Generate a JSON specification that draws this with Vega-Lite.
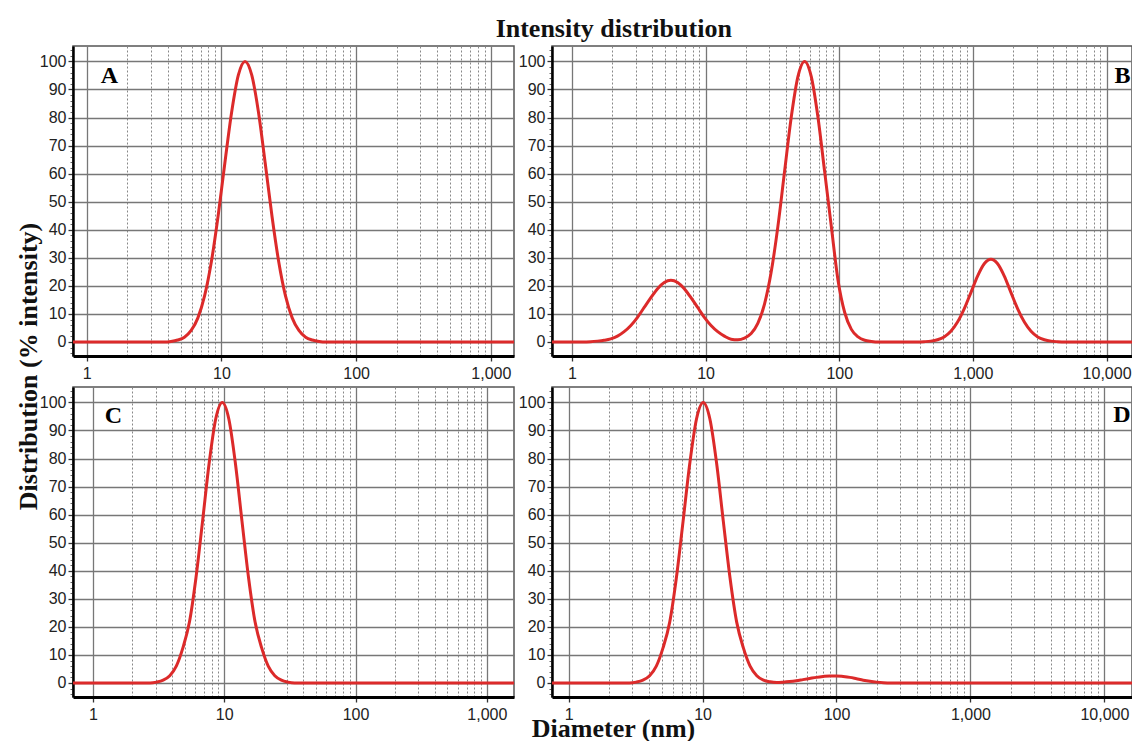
{
  "$schema": "https://vega.github.io/schema/vega-lite/v6.json",
  "background": "white",
  "padding": {"left": 14, "top": 16, "right": 0, "bottom": 0},
  "title": {"text": "Intensity distribution", "font": "Liberation Serif", "fontSize": 26, "fontWeight": "bold", "color": "#111", "anchor": "middle", "offset": 3, "dx": 40},
  "config": {
    "view": {"stroke": "#555", "strokeWidth": 1.5},
    "axis": {"labelFont": "Liberation Sans", "labelFontSize": 16, "labelColor": "#222", "titleFont": "Liberation Serif", "titleFontWeight": "bold", "titleFontSize": 26, "titleColor": "#111"}
  },
  "datasets": {
    "A": [{"d":0.79,"v":0},{"d":3.0,"v":0},{"d":3.758,"v":0},{"d":4.217,"v":0.2},{"d":4.732,"v":0.7},{"d":5.309,"v":1.7},{"d":5.957,"v":4.1},{"d":6.683,"v":8.6},{"d":7.499,"v":16.5},{"d":8.414,"v":28.6},{"d":9.441,"v":44.9},{"d":10.59,"v":63.7},{"d":11.89,"v":81.8},{"d":13.34,"v":95.1},{"d":14.96,"v":100},{"d":16.79,"v":95.1},{"d":18.84,"v":81.8},{"d":21.13,"v":63.7},{"d":23.71,"v":44.9},{"d":26.61,"v":28.6},{"d":29.85,"v":16.5},{"d":33.5,"v":8.6},{"d":37.58,"v":4.1},{"d":42.17,"v":1.7},{"d":47.32,"v":0.7},{"d":53.09,"v":0.2},{"d":59.57,"v":0},{"d":1486,"v":0}],
    "B": [{"d":0.71,"v":0},{"d":1.2,"v":0},{"d":1.384,"v":0.1},{"d":1.552,"v":0.3},{"d":1.742,"v":0.6},{"d":1.954,"v":1.1},{"d":2.193,"v":2.1},{"d":2.46,"v":3.7},{"d":2.761,"v":5.9},{"d":3.097,"v":8.8},{"d":3.475,"v":12.3},{"d":3.899,"v":15.8},{"d":4.375,"v":19.0},{"d":4.909,"v":21.2},{"d":5.508,"v":22.0},{"d":6.18,"v":21.2},{"d":6.934,"v":19.0},{"d":7.78,"v":15.8},{"d":8.73,"v":12.3},{"d":9.795,"v":8.8},{"d":10.99,"v":5.9},{"d":12.33,"v":3.7},{"d":13.84,"v":2.1},{"d":15.52,"v":1.0},{"d":17.42,"v":0.8},{"d":19.54,"v":1.4},{"d":21.93,"v":3.0},{"d":24.6,"v":6.6},{"d":27.61,"v":13.5},{"d":30.97,"v":24.9},{"d":34.75,"v":41.1},{"d":38.99,"v":60.7},{"d":43.75,"v":80.1},{"d":49.09,"v":94.6},{"d":55.08,"v":100},{"d":61.8,"v":94.6},{"d":69.34,"v":80.1},{"d":77.8,"v":60.7},{"d":87.3,"v":41.1},{"d":97.95,"v":22.0},{"d":109.9,"v":10.5},{"d":123.3,"v":4.5},{"d":138.4,"v":1.8},{"d":155.2,"v":0.6},{"d":174.2,"v":0.2},{"d":195.4,"v":0},{"d":384.6,"v":0},{"d":431.5,"v":0.1},{"d":484.2,"v":0.3},{"d":543.3,"v":0.8},{"d":609.5,"v":1.8},{"d":683.9,"v":3.8},{"d":767.4,"v":7.1},{"d":861,"v":11.8},{"d":966.1,"v":17.6},{"d":1084,"v":23.5},{"d":1216,"v":27.9},{"d":1365,"v":29.5},{"d":1531,"v":27.9},{"d":1718,"v":23.5},{"d":1928,"v":17.6},{"d":2163,"v":11.8},{"d":2427,"v":7.1},{"d":2723,"v":3.8},{"d":3055,"v":1.8},{"d":3428,"v":0.8},{"d":3846,"v":0.3},{"d":4315,"v":0.1},{"d":4842,"v":0},{"d":15630,"v":0}],
    "C": [{"d":0.705,"v":0},{"d":2.4,"v":0},{"d":2.723,"v":0},{"d":3.055,"v":0.3},{"d":3.428,"v":1.0},{"d":3.846,"v":2.6},{"d":4.315,"v":6.0},{"d":4.842,"v":12.5},{"d":5.433,"v":21.7},{"d":6.095,"v":37.6},{"d":6.839,"v":57.7},{"d":7.674,"v":78.3},{"d":8.61,"v":94.1},{"d":9.661,"v":100},{"d":10.84,"v":94.1},{"d":12.16,"v":78.3},{"d":13.65,"v":57.7},{"d":15.31,"v":37.6},{"d":17.18,"v":21.7},{"d":19.28,"v":12.5},{"d":21.63,"v":6.0},{"d":24.27,"v":2.6},{"d":27.23,"v":1.0},{"d":30.55,"v":0.3},{"d":34.28,"v":0},{"d":1610,"v":0}],
    "D": [{"d":0.752,"v":0},{"d":2.5,"v":0},{"d":2.851,"v":0},{"d":3.199,"v":0.3},{"d":3.589,"v":1.0},{"d":4.027,"v":2.6},{"d":4.519,"v":6.0},{"d":5.07,"v":12.5},{"d":5.689,"v":21.7},{"d":6.383,"v":37.6},{"d":7.161,"v":57.7},{"d":8.035,"v":78.3},{"d":9.016,"v":94.1},{"d":10.12,"v":100},{"d":11.35,"v":94.1},{"d":12.74,"v":78.3},{"d":14.29,"v":57.7},{"d":16.03,"v":37.6},{"d":17.99,"v":21.7},{"d":20.18,"v":12.5},{"d":22.65,"v":6.0},{"d":25.41,"v":2.6},{"d":28.51,"v":1.0},{"d":31.99,"v":0.4},{"d":35.89,"v":0.2},{"d":39.81,"v":0.3},{"d":44.67,"v":0.5},{"d":50.12,"v":0.8},{"d":56.23,"v":1.2},{"d":63.1,"v":1.6},{"d":70.79,"v":2.0},{"d":79.43,"v":2.3},{"d":89.13,"v":2.5},{"d":100,"v":2.5},{"d":112.2,"v":2.3},{"d":125.9,"v":2.0},{"d":141.3,"v":1.5},{"d":158.5,"v":1.0},{"d":177.8,"v":0.6},{"d":199.5,"v":0.3},{"d":223.9,"v":0.1},{"d":251.2,"v":0},{"d":16080,"v":0}]
  },
  "columns": 2,
  "spacing": {"row": 31, "column": 38},
  "bounds": "flush",
  "concat": [
    {
      "width": 441, "height": 310,
      "resolve": {"axis": {"x": "independent", "y": "independent"}},
      "layer": [
        {"data": {"name": "A"}, "mark": {"type": "line", "strokeOpacity": 0},
         "encoding": {
           "x": {"field": "d", "type": "quantitative", "scale": {"type": "log", "domain": [0.79, 1486], "nice": false}, "axis": {"orient": "bottom", "values": [2,3,4,5,6,7,8,9,20,30,40,50,60,70,80,90,200,300,400,500,600,700,800,900], "grid": true, "gridColor": "#888", "gridWidth": 1, "gridDash": [2,2], "labels": false, "ticks": false, "domain": false, "title": null}},
           "y": {"field": "v", "type": "quantitative", "scale": {"domain": [-5, 105.5], "nice": false, "zero": false}, "axis": {"orient": "left", "values": [-4,-2,0,2,4,6,8,10,12,14,16,18,20,22,24,26,28,30,32,34,36,38,40,42,44,46,48,50,52,54,56,58,60,62,64,66,68,70,72,74,76,78,80,82,84,86,88,90,92,94,96,98,100,102,104], "grid": false, "labels": false, "domain": false, "ticks": true, "tickSize": 3, "tickColor": "#666", "tickWidth": 1, "title": null}}
         }},
        {"data": {"name": "A"}, "mark": {"type": "line", "color": "#dc2a2a", "strokeWidth": 3, "interpolate": "monotone", "clip": true},
         "encoding": {
           "x": {"field": "d", "type": "quantitative", "scale": {"type": "log", "domain": [0.79, 1486], "nice": false}, "axis": {"orient": "bottom", "values": [1,10,100,1000], "format": ",", "grid": true, "gridColor": "#777", "gridWidth": 1.3, "domain": true, "domainColor": "#000", "domainWidth": 3, "ticks": true, "tickColor": "#333", "tickSize": 5, "tickWidth": 1.3, "labelPadding": 4, "labelFlush": false, "labelOverlap": false, "title": null}},
           "y": {"field": "v", "type": "quantitative", "scale": {"domain": [-5, 105.5], "nice": false, "zero": false}, "axis": {"orient": "left", "values": [0,10,20,30,40,50,60,70,80,90,100], "grid": true, "gridColor": "#777", "gridWidth": 1.3, "domain": true, "domainColor": "#000", "domainWidth": 2.5, "ticks": true, "tickColor": "#333", "tickSize": 5, "tickWidth": 1.3, "labelPadding": 2, "title": "Distribution (% intensity)", "titleAngle": 270, "titleX": -45, "titleY": 320, "titleAlign": "center", "titleBaseline": "middle"}}
         }},
        {"data": {"values": [{"label": "A", "d": 1.47, "v": 94.8}]}, "mark": {"type": "text", "font": "Liberation Serif", "fontSize": 24, "fontWeight": "bold", "color": "#000", "align": "center", "baseline": "middle"},
         "encoding": {"x": {"field": "d", "type": "quantitative", "axis": null}, "y": {"field": "v", "type": "quantitative", "axis": null}, "text": {"field": "label"}}}
      ]
    },
    {
      "width": 580, "height": 310,
      "resolve": {"axis": {"x": "independent", "y": "independent"}},
      "layer": [
        {"data": {"name": "B"}, "mark": {"type": "line", "strokeOpacity": 0},
         "encoding": {
           "x": {"field": "d", "type": "quantitative", "scale": {"type": "log", "domain": [0.71, 15500], "nice": false}, "axis": {"orient": "bottom", "values": [2,3,4,5,6,7,8,9,20,30,40,50,60,70,80,90,200,300,400,500,600,700,800,900,2000,3000,4000,5000,6000,7000,8000,9000], "grid": true, "gridColor": "#888", "gridWidth": 1, "gridDash": [2,2], "labels": false, "ticks": false, "domain": false, "title": null}},
           "y": {"field": "v", "type": "quantitative", "scale": {"domain": [-5, 105.5], "nice": false, "zero": false}, "axis": {"orient": "left", "values": [-4,-2,0,2,4,6,8,10,12,14,16,18,20,22,24,26,28,30,32,34,36,38,40,42,44,46,48,50,52,54,56,58,60,62,64,66,68,70,72,74,76,78,80,82,84,86,88,90,92,94,96,98,100,102,104], "grid": false, "labels": false, "domain": false, "ticks": true, "tickSize": 3, "tickColor": "#666", "tickWidth": 1, "title": null}}
         }},
        {"data": {"name": "B"}, "mark": {"type": "line", "color": "#dc2a2a", "strokeWidth": 3, "interpolate": "monotone", "clip": true},
         "encoding": {
           "x": {"field": "d", "type": "quantitative", "scale": {"type": "log", "domain": [0.71, 15500], "nice": false}, "axis": {"orient": "bottom", "values": [1,10,100,1000,10000], "format": ",", "grid": true, "gridColor": "#777", "gridWidth": 1.3, "domain": true, "domainColor": "#000", "domainWidth": 3, "ticks": true, "tickColor": "#333", "tickSize": 5, "tickWidth": 1.3, "labelPadding": 4, "labelFlush": false, "labelOverlap": false, "title": null}},
           "y": {"field": "v", "type": "quantitative", "scale": {"domain": [-5, 105.5], "nice": false, "zero": false}, "axis": {"orient": "left", "values": [0,10,20,30,40,50,60,70,80,90,100], "grid": true, "gridColor": "#777", "gridWidth": 1.3, "domain": true, "domainColor": "#000", "domainWidth": 2.5, "ticks": true, "tickColor": "#333", "tickSize": 5, "tickWidth": 1.3, "labelPadding": 2, "title": null}}
         }},
        {"data": {"values": [{"label": "B", "d": 13150, "v": 94.8}]}, "mark": {"type": "text", "font": "Liberation Serif", "fontSize": 24, "fontWeight": "bold", "color": "#000", "align": "center", "baseline": "middle"},
         "encoding": {"x": {"field": "d", "type": "quantitative", "axis": null}, "y": {"field": "v", "type": "quantitative", "axis": null}, "text": {"field": "label"}}}
      ]
    },
    {
      "width": 441, "height": 310,
      "resolve": {"axis": {"x": "independent", "y": "independent"}},
      "layer": [
        {"data": {"name": "C"}, "mark": {"type": "line", "strokeOpacity": 0},
         "encoding": {
           "x": {"field": "d", "type": "quantitative", "scale": {"type": "log", "domain": [0.705, 1610], "nice": false}, "axis": {"orient": "bottom", "values": [2,3,4,5,6,7,8,9,20,30,40,50,60,70,80,90,200,300,400,500,600,700,800,900], "grid": true, "gridColor": "#888", "gridWidth": 1, "gridDash": [2,2], "labels": false, "ticks": false, "domain": false, "title": null}},
           "y": {"field": "v", "type": "quantitative", "scale": {"domain": [-5, 105.5], "nice": false, "zero": false}, "axis": {"orient": "left", "values": [-4,-2,0,2,4,6,8,10,12,14,16,18,20,22,24,26,28,30,32,34,36,38,40,42,44,46,48,50,52,54,56,58,60,62,64,66,68,70,72,74,76,78,80,82,84,86,88,90,92,94,96,98,100,102,104], "grid": false, "labels": false, "domain": false, "ticks": true, "tickSize": 3, "tickColor": "#666", "tickWidth": 1, "title": null}}
         }},
        {"data": {"name": "C"}, "mark": {"type": "line", "color": "#dc2a2a", "strokeWidth": 3, "interpolate": "monotone", "clip": true},
         "encoding": {
           "x": {"field": "d", "type": "quantitative", "scale": {"type": "log", "domain": [0.705, 1610], "nice": false}, "axis": {"orient": "bottom", "values": [1,10,100,1000], "format": ",", "grid": true, "gridColor": "#777", "gridWidth": 1.3, "domain": true, "domainColor": "#000", "domainWidth": 3, "ticks": true, "tickColor": "#333", "tickSize": 5, "tickWidth": 1.3, "labelPadding": 4, "labelFlush": false, "labelOverlap": false, "title": null}},
           "y": {"field": "v", "type": "quantitative", "scale": {"domain": [-5, 105.5], "nice": false, "zero": false}, "axis": {"orient": "left", "values": [0,10,20,30,40,50,60,70,80,90,100], "grid": true, "gridColor": "#777", "gridWidth": 1.3, "domain": true, "domainColor": "#000", "domainWidth": 2.5, "ticks": true, "tickColor": "#333", "tickSize": 5, "tickWidth": 1.3, "labelPadding": 2, "title": null}}
         }},
        {"data": {"values": [{"label": "C", "d": 1.43, "v": 95}]}, "mark": {"type": "text", "font": "Liberation Serif", "fontSize": 24, "fontWeight": "bold", "color": "#000", "align": "center", "baseline": "middle"},
         "encoding": {"x": {"field": "d", "type": "quantitative", "axis": null}, "y": {"field": "v", "type": "quantitative", "axis": null}, "text": {"field": "label"}}}
      ]
    },
    {
      "width": 580, "height": 310,
      "resolve": {"axis": {"x": "independent", "y": "independent"}},
      "layer": [
        {"data": {"name": "D"}, "mark": {"type": "line", "strokeOpacity": 0},
         "encoding": {
           "x": {"field": "d", "type": "quantitative", "scale": {"type": "log", "domain": [0.752, 16080], "nice": false}, "axis": {"orient": "bottom", "values": [2,3,4,5,6,7,8,9,20,30,40,50,60,70,80,90,200,300,400,500,600,700,800,900,2000,3000,4000,5000,6000,7000,8000,9000], "grid": true, "gridColor": "#888", "gridWidth": 1, "gridDash": [2,2], "labels": false, "ticks": false, "domain": false, "title": null}},
           "y": {"field": "v", "type": "quantitative", "scale": {"domain": [-5, 105.5], "nice": false, "zero": false}, "axis": {"orient": "left", "values": [-4,-2,0,2,4,6,8,10,12,14,16,18,20,22,24,26,28,30,32,34,36,38,40,42,44,46,48,50,52,54,56,58,60,62,64,66,68,70,72,74,76,78,80,82,84,86,88,90,92,94,96,98,100,102,104], "grid": false, "labels": false, "domain": false, "ticks": true, "tickSize": 3, "tickColor": "#666", "tickWidth": 1, "title": null}}
         }},
        {"data": {"name": "D"}, "mark": {"type": "line", "color": "#dc2a2a", "strokeWidth": 3, "interpolate": "monotone", "clip": true},
         "encoding": {
           "x": {"field": "d", "type": "quantitative", "scale": {"type": "log", "domain": [0.752, 16080], "nice": false}, "axis": {"orient": "bottom", "values": [1,10,100,1000,10000], "format": ",", "grid": true, "gridColor": "#777", "gridWidth": 1.3, "domain": true, "domainColor": "#000", "domainWidth": 3, "ticks": true, "tickColor": "#333", "tickSize": 5, "tickWidth": 1.3, "labelPadding": 4, "labelFlush": false, "labelOverlap": false, "title": "Diameter (nm)", "titleX": 61, "titleY": 39, "titleAlign": "center", "titleBaseline": "alphabetic"}},
           "y": {"field": "v", "type": "quantitative", "scale": {"domain": [-5, 105.5], "nice": false, "zero": false}, "axis": {"orient": "left", "values": [0,10,20,30,40,50,60,70,80,90,100], "grid": true, "gridColor": "#777", "gridWidth": 1.3, "domain": true, "domainColor": "#000", "domainWidth": 2.5, "ticks": true, "tickColor": "#333", "tickSize": 5, "tickWidth": 1.3, "labelPadding": 2, "title": null}}
         }},
        {"data": {"values": [{"label": "D", "d": 13550, "v": 95.6}]}, "mark": {"type": "text", "font": "Liberation Serif", "fontSize": 24, "fontWeight": "bold", "color": "#000", "align": "center", "baseline": "middle"},
         "encoding": {"x": {"field": "d", "type": "quantitative", "axis": null}, "y": {"field": "v", "type": "quantitative", "axis": null}, "text": {"field": "label"}}}
      ]
    }
  ]
}
